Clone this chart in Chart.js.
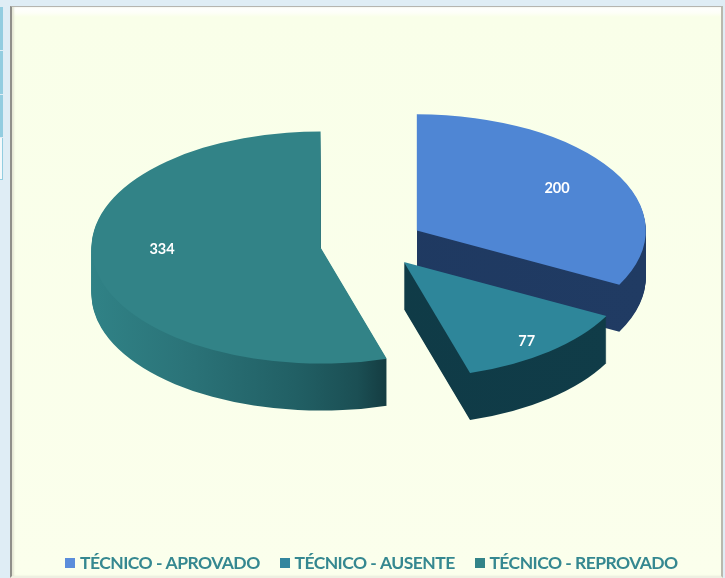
<!DOCTYPE html>
<html>
<head>
<meta charset="utf-8">
<script src="https://cdn.jsdelivr.net/npm/chart.js@4"></script>
<style>
html,body{margin:0;padding:0;width:725px;height:578px;overflow:hidden;background:#dfedf5;}
#frame{position:absolute;left:10px;top:6px;width:713px;height:572px;box-sizing:border-box;
 border-left:2px solid #8f8f8a;border-top:1px solid #b5b5b0;border-right:2px solid #b9b9ae;border-bottom:2px solid #eef0e2;
 background:linear-gradient(#ffffff 0,#fdfff7 6px,#f9ffe9 10px,#fbffec 100%);
 box-shadow:inset 2px 0 2px #e4e6d4;}
.cell{position:absolute;left:0;width:3px;background:#93cde0;}
#outline{position:absolute;left:0;top:138px;width:3px;height:42px;box-sizing:border-box;border-right:1px solid #93cde0;border-bottom:1px solid #93cde0;background:#f4f9fb;}
#c{position:absolute;left:0;top:0;}
</style>
</head>
<body>
<div class="cell" style="top:7px;height:43px"></div>
<div class="cell" style="top:51px;height:43px"></div>
<div class="cell" style="top:95px;height:42px"></div>
<div id="outline"></div>
<div id="frame"></div>
<canvas id="c" width="725" height="578"></canvas>
<script>
const categories = ['TÉCNICO - APROVADO', 'TÉCNICO - AUSENTE', 'TÉCNICO - REPROVADO'];
const values = [200, 77, 334];
const topColors = ['#4f86d4', '#2e869a', '#328387'];
const legendColors = ['#5b8ddb', '#33869e', '#338488'];

const CENTER = {x: 374, y: 243.5};
const TILT = 0.507;
const DEPTH = 47;
const RADIUS = 229;
const explode = [50, 47, 54];
const labelAt = [0.715, 0.85, 0.70];
const labelNudge = [[0, 1], [-1, 3], [0, -10]];

function swatch(color) {
  const s = document.createElement('canvas');
  s.width = 10; s.height = 10;
  const g = s.getContext('2d');
  g.fillStyle = color; g.fillRect(0, 0, 10, 10);
  return s;
}
function sideFill(ctx, i, arc) {
  const R = arc.outerRadius;
  const g = ctx.createLinearGradient(arc.x - R, 0, arc.x + R, 0);
  if (i === 0) {
    g.addColorStop(0, '#1e3860'); g.addColorStop(1, '#203b63');
  } else if (i === 1) {
    g.addColorStop(0, '#0f3a46'); g.addColorStop(1, '#103c48');
  } else {
    g.addColorStop(0, '#308286');
    g.addColorStop(0.2, '#2b7479');
    g.addColorStop(0.45, '#215f64');
    g.addColorStop(0.58, '#1b4f54');
    g.addColorStop(0.645, '#143c41');
    g.addColorStop(1, '#143c41');
  }
  return g;
}
function apex(arc, i) {
  const mid = (arc.startAngle + arc.endAngle) / 2;
  return {x: CENTER.x + Math.cos(mid) * explode[i],
          y: CENTER.y + Math.sin(mid) * explode[i] * TILT};
}
function place(ctx, arc, i, dy) {
  const p = apex(arc, i);
  ctx.translate(p.x, p.y + dy);
  ctx.scale(1, TILT);
  ctx.translate(-arc.x, -arc.y);
}
const pie3d = {
  id: 'pie3d',
  beforeLayout(chart) {
    chart.ctx.letterSpacing = '-0.55px';
  },
  beforeDatasetDraw(chart) {
    const ctx = chart.ctx;
    const arcs = chart.getDatasetMeta(0).data;
    [2, 0, 1].forEach(i => {
      const arc = arcs[i], saved = arc.options;
      const fill = sideFill(ctx, i, arc);
      const p = apex(arc, i);
      ctx.save();
      // keep the side walls from bleeding past the vertical cut at the back of the slice
      ctx.beginPath();
      if (i === 0) {
        ctx.rect(p.x + 0.5, 0, chart.width, chart.height);
      } else if (i === 2) {
        ctx.rect(0, 0, p.x - 0.5, chart.height);
        ctx.rect(p.x - 0.5, p.y, chart.width, chart.height);
      } else {
        ctx.rect(0, 0, chart.width, chart.height);
      }
      ctx.clip();
      arc.options = {backgroundColor: fill, borderColor: fill, borderWidth: 0, borderAlign: 'center',
                     offset: 0, spacing: 0, circular: true, borderRadius: 0};
      for (let d = DEPTH; d > 0; d--) {
        ctx.save(); place(ctx, arc, i, d); arc.draw(ctx); ctx.restore();
      }
      arc.options = saved;
      ctx.restore();
    });
    [2, 0, 1].forEach(i => {
      ctx.save(); place(ctx, arcs[i], i, 0); arcs[i].draw(ctx); ctx.restore();
    });
    return false;
  },
  afterDatasetsDraw(chart) {
    const ctx = chart.ctx;
    const arcs = chart.getDatasetMeta(0).data;
    ctx.save();
    ctx.letterSpacing = '0px';
    ctx.fillStyle = '#ffffff';
    ctx.font = 'bold 14.5px Lato';
    ctx.textAlign = 'center';
    ctx.textBaseline = 'middle';
    arcs.forEach((arc, i) => {
      const mid = (arc.startAngle + arc.endAngle) / 2;
      const r = explode[i] + RADIUS * labelAt[i];
      ctx.fillText(String(values[i]),
        CENTER.x + Math.cos(mid) * r + labelNudge[i][0],
        CENTER.y + Math.sin(mid) * r * TILT + labelNudge[i][1]);
    });
    ctx.restore();
  }
};
new Chart(document.getElementById('c'), {
  type: 'pie',
  data: {
    labels: categories,
    datasets: [{data: values, backgroundColor: topColors, borderWidth: 0, clip: false}]
  },
  plugins: [pie3d],
  options: {
    responsive: false,
    animation: false,
    radius: RADIUS,
    layout: {padding: {left: 22, bottom: -4}},
    plugins: {
      tooltip: {enabled: false},
      legend: {
        position: 'bottom',
        labels: {
          color: '#358890',
          font: {family: 'Lato', size: 17.5, weight: 'bold'},
          padding: 24,
          usePointStyle: true,
          boxWidth: 2,
          boxHeight: 10,
          generateLabels: () => categories.map((t, i) => ({
            text: t, fillStyle: legendColors[i], strokeStyle: legendColors[i], lineWidth: 0,
            fontColor: '#358890', pointStyle: swatch(legendColors[i]), index: i
          }))
        }
      }
    }
  }
});
</script>
</body>
</html>
